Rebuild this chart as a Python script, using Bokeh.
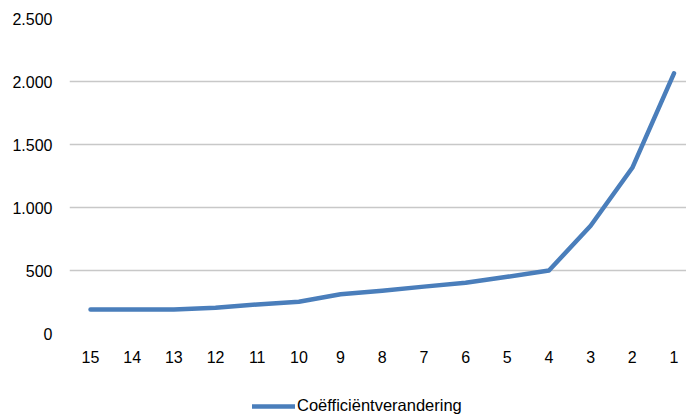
from bokeh.plotting import figure
from bokeh.models import Legend, LegendItem, FixedTicker, Range1d
from bokeh.layouts import column
from bokeh.embed import file_html
from bokeh.resources import INLINE

categories = ["15", "14", "13", "12", "11", "10", "9", "8", "7", "6", "5", "4", "3", "2", "1"]
values = [190, 190, 190, 205, 230, 252, 311, 340, 372, 402, 450, 500, 855, 1315, 2065]
y_ticks = [0, 500, 1000, 1500, 2000, 2500]
y_labels = ["0", "500", "1.000", "1.500", "2.000", "2.500"]
series_name = "Coëfficiëntverandering"

FONT = "Liberation Sans"
LINE_COLOR = "#4a7ebb"
idx = list(range(len(categories)))

p = figure(width=686, height=385, output_backend="svg", toolbar_location=None,
           x_range=Range1d(-0.504, 14.3), y_range=Range1d(0, 2500),
           min_border_left=69, min_border_right=0, min_border_top=18, min_border_bottom=52)
p.outline_line_color = None
p.background_fill_color = "white"
p.border_fill_color = "white"

p.line(idx, values, line_color=LINE_COLOR, line_width=4.5, line_cap="round", line_join="round")

# x axis
p.xaxis.ticker = FixedTicker(ticks=idx)
p.xaxis.major_label_overrides = {i: c for i, c in zip(idx, categories)}
p.xaxis.axis_line_color = None
p.xaxis.major_tick_line_color = None
p.xaxis.minor_tick_line_color = None
p.xaxis.major_tick_out = 0
p.xaxis.major_label_standoff = 17
p.xaxis.major_label_text_font = FONT
p.xaxis.major_label_text_font_size = "16px"
p.xaxis.major_label_text_color = "black"
p.xgrid.grid_line_color = None

# y axis
p.yaxis.ticker = FixedTicker(ticks=y_ticks)
p.yaxis.major_label_overrides = {t: l for t, l in zip(y_ticks, y_labels)}
p.yaxis.axis_line_color = None
p.yaxis.major_tick_line_color = None
p.yaxis.minor_tick_line_color = None
p.yaxis.major_tick_out = 0
p.yaxis.major_label_standoff = 17
p.yaxis.major_label_text_font = FONT
p.yaxis.major_label_text_font_size = "16px"
p.yaxis.major_label_text_color = "black"
p.ygrid.ticker = FixedTicker(ticks=y_ticks)
p.ygrid.grid_line_color = "#c8c8c8"
p.ygrid.grid_line_width = 1.3

# legend strip below the chart (its frame is aligned with the chart frame)
lg = figure(width=686, height=32, output_backend="svg", toolbar_location=None,
            x_axis_type=None, y_axis_type=None,
            x_range=Range1d(0, 1), y_range=Range1d(0, 1),
            min_border_left=0, min_border_right=0, min_border_top=0, min_border_bottom=0)
lg.outline_line_color = None
lg.grid.grid_line_color = None
lg.background_fill_color = "white"
lg.border_fill_color = "white"
# a sample line kept outside the visible range; it only feeds the legend swatch
lr = lg.line([5, 6], [5, 5], line_color=LINE_COLOR, line_width=4.5, line_cap="round")
legend = Legend(items=[LegendItem(label=series_name, renderers=[lr])],
                location=(183, 2), orientation="horizontal",
                glyph_width=43, glyph_height=16, label_height=16, label_standoff=2,
                padding=0, margin=0, spacing=0,
                label_text_font=FONT, label_text_font_size="16.5px", label_text_color="black",
                border_line_color=None, background_fill_alpha=0)
lg.add_layout(legend, "center")

layout = column(p, lg, spacing=0)
open("out.html", "w").write(file_html(layout, INLINE))
